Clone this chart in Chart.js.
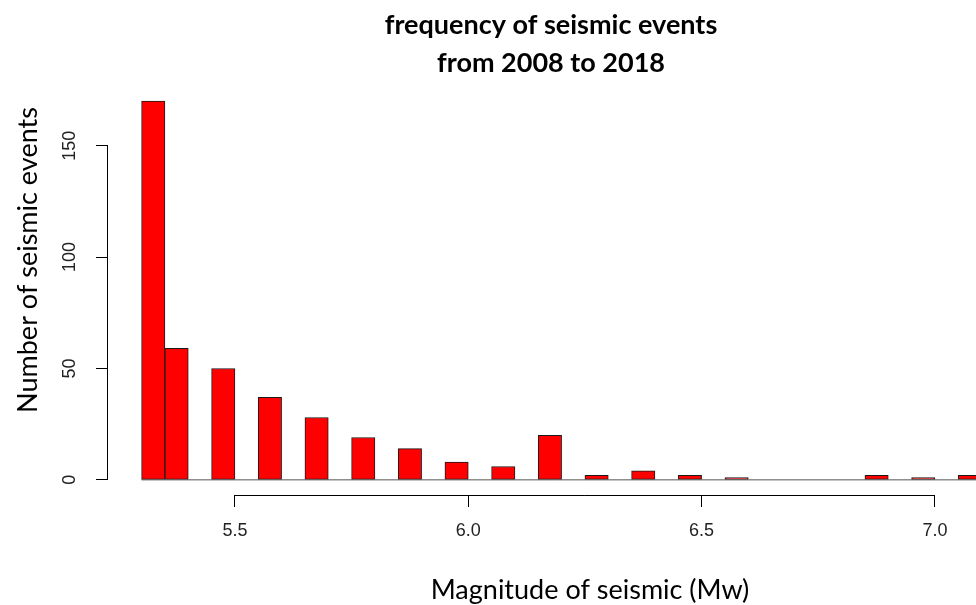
<!DOCTYPE html>
<html>
<head>
<meta charset="utf-8">
<script src="https://cdn.jsdelivr.net/npm/chart.js@4/dist/chart.umd.min.js"></script>
<style>
  html, body { margin: 0; padding: 0; background: #ffffff; overflow: hidden; }
  #wrap { width: 976px; height: 605px; }
</style>
</head>
<body>
<div id="wrap"><canvas id="c" width="976" height="605"></canvas></div>
<script>
// ---- data (histogram of magnitudes, bin width 0.05) ----
const binEdges = [5.30, 5.35, 5.40, 5.45, 5.50, 5.55, 5.60, 5.65, 5.70, 5.75,
                  5.80, 5.85, 5.90, 5.95, 6.00, 6.05, 6.10, 6.15, 6.20, 6.25,
                  6.30, 6.35, 6.40, 6.45, 6.50, 6.55, 6.60, 6.65, 6.70, 6.75,
                  6.80, 6.85, 6.90, 6.95, 7.00, 7.05, 7.10];
const counts = [170, 59, 0, 50, 0, 37, 0, 28, 0, 19,
                0, 14, 0, 8, 0, 6, 0, 20, 0, 2,
                0, 4, 0, 2, 0, 1, 0, 0, 0, 0,
                0, 2, 0, 1, 0, 2];
const xTicks = [5.5, 6.0, 6.5, 7.0];
const xTickLabels = ['5.5', '6.0', '6.5', '7.0'];
const yTicks = [0, 50, 100, 150];
const yTickLabels = ['0', '50', '100', '150'];
const titleLines = ['frequency of seismic events', 'from 2008 to 2018'];
const xTitle = 'Magnitude of seismic (Mw)';
const yTitle = 'Number of seismic events';

// ---- build datasets ----
const barData = counts.map((c, i) => ({ x: (binEdges[i] + binEdges[i + 1]) / 2, y: c }));
const baseData = [{ x: binEdges[0], y: 0 }, { x: binEdges[binEdges.length - 1], y: 0 }];

const rAxes = {
  id: 'rAxes',
  afterDraw(chart) {
    const ctx = chart.ctx;
    const xs = chart.scales.x, ys = chart.scales.y;
    const ca = chart.chartArea;
    ctx.save();
    ctx.strokeStyle = '#000';
    ctx.lineWidth = 1;
    // x axis line (first to last tick)
    const yb = Math.round(ca.bottom) + 0.5;
    ctx.beginPath();
    ctx.moveTo(xs.getPixelForValue(xTicks[0]), yb);
    ctx.lineTo(xs.getPixelForValue(xTicks[xTicks.length - 1]), yb);
    ctx.stroke();
    // y axis line
    const xl = Math.round(ca.left) - 0.5;
    ctx.beginPath();
    ctx.moveTo(xl, ys.getPixelForValue(yTicks[0]));
    ctx.lineTo(xl, ys.getPixelForValue(yTicks[yTicks.length - 1]));
    ctx.stroke();
    // y tick labels (rotated, parallel to axis)
    ctx.fillStyle = '#222';
    ctx.font = '18px "Liberation Sans", Arial, sans-serif';
    ctx.textAlign = 'center';
    ctx.textBaseline = 'alphabetic';
    yTicks.forEach((v, i) => {
      ctx.save();
      ctx.translate(ca.left - 33, ys.getPixelForValue(v));
      ctx.rotate(-Math.PI / 2);
      ctx.fillText(yTickLabels[i], 0, 0);
      ctx.restore();
    });
    // main title (centred over the plot region of the original figure)
    ctx.fillStyle = '#000';
    ctx.font = 'bold 27px Lato, "Open Sans", sans-serif';
    ctx.textAlign = 'center';
    ctx.textBaseline = 'middle';
    ctx.fillText(titleLines[0], 551, 25);
    ctx.fillText(titleLines[1], 551, 63);
    // axis titles
    ctx.font = '27px Lato, "Open Sans", sans-serif';
    ctx.fillText(xTitle, 590, 590);
    ctx.save();
    ctx.translate(28, 260);
    ctx.rotate(-Math.PI / 2);
    ctx.fillText(yTitle, 0, 0);
    ctx.restore();
    ctx.restore();
  }
};

new Chart(document.getElementById('c'), {
  type: 'bar',
  data: {
    datasets: [
      {
        type: 'bar',
        data: barData,
        backgroundColor: '#ff0000',
        borderColor: '#1a1a1a',
        borderWidth: 1,
        borderSkipped: false,
        barPercentage: 1.0,
        categoryPercentage: 1.0,
        order: 2
      },
      {
        type: 'line',
        data: baseData,
        borderColor: '#555555',
        borderWidth: 1,
        pointRadius: 0,
        fill: false,
        order: 1
      }
    ]
  },
  options: {
    responsive: false,
    animation: false,
    devicePixelRatio: 1,
    layout: { padding: { top: 86, left: 0, right: 0, bottom: 0 } },
    plugins: {
      legend: { display: false },
      tooltip: { enabled: false },
      title: { display: false }
    },
    scales: {
      x: {
        type: 'linear',
        min: 5.228,
        max: 7.088,
        offset: false,
        afterBuildTicks: (s) => { s.ticks = xTicks.map(v => ({ value: v })); },
        afterFit: (s) => { s.height = 110; },
        grid: { display: true, offset: false, drawOnChartArea: false, drawTicks: true, tickLength: 12, color: '#000', lineWidth: 1 },
        border: { display: false },
        ticks: {
          color: '#222',
          font: { family: '"Liberation Sans", Arial, sans-serif', size: 18 },
          padding: 13,
          maxRotation: 0,
          minRotation: 0,
          autoSkip: false,
          callback: (v) => { const k = xTicks.indexOf(v); return k >= 0 ? xTickLabels[k] : ''; }
        }
      },
      y: {
        type: 'linear',
        min: -6.8,
        max: 176.8,
        afterBuildTicks: (s) => { s.ticks = yTicks.map(v => ({ value: v })); },
        afterFit: (s) => { s.width = 108; },
        grid: { display: true, offset: false, drawOnChartArea: false, drawTicks: true, tickLength: 12, color: '#000', lineWidth: 1 },
        border: { display: false },
        ticks: { display: false }
      }
    }
  },
  plugins: [rAxes]
});
</script>
</body>
</html>
